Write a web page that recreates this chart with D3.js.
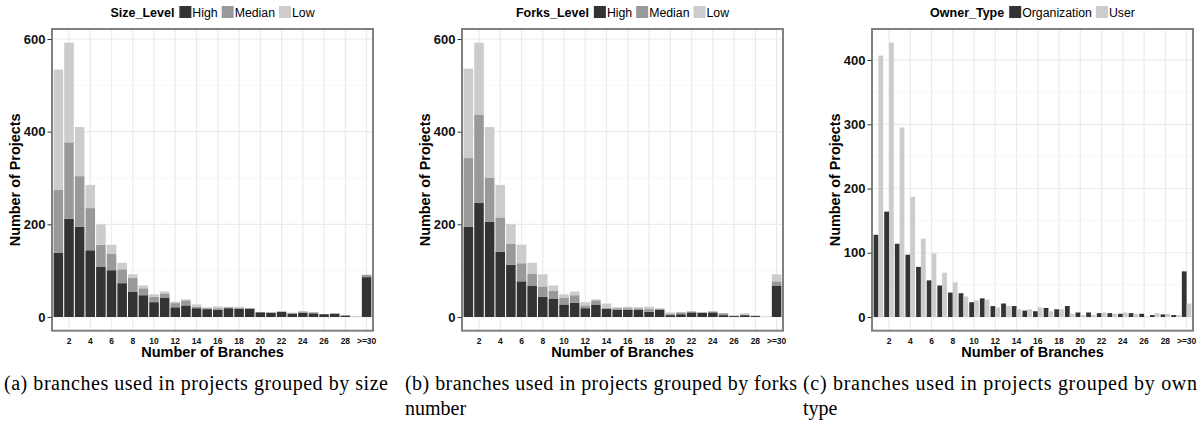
<!DOCTYPE html>
<html>
<head>
<meta charset="utf-8">
<script src="https://cdn.jsdelivr.net/npm/d3@7"></script>
<style>
  body { margin: 0; background: #fff; }
  svg text { font-family: "Liberation Sans", Arial, sans-serif; }
  .caption { font-family: "Liberation Serif", "Times New Roman", serif; font-size: 20px; fill: #000; }
</style>
</head>
<body>
<script>
// Categories (number of branches)
var branches = ["1","2","3","4","5","6","7","8","9","10","11","12","13","14","15",
                "16","17","18","19","20","21","22","23","24","25","26","27","28","29",">=30"];
var tickLabels = ["2","4","6","8","10","12","14","16","18","20","22","24","26","28",">=30"];

// (a) grouped by size level
var sizeHigh   = [139,212,195,144,109,101,73,54,47,32,41,21,25,19,17,16,19,18,18,10,9,11,7,9,8,6,7,3,0,86];
var sizeMedian = [135,165,109,91,47,36,30,30,15,12,10,9,11,3,2,3,2,2,1,0,1,1,2,3,2,0,1,1,0,5];
var sizeLow    = [260,215,106,50,44,19,14,8,6,5,4,3,2,5,2,4,1,2,0,0,0,0,0,0,0,0,0,0,2,0];

// (b) grouped by forks level
var forksHigh   = [195,246,206,141,113,77,68,44,40,27,31,19,27,18,16,16,16,11,16,4,6,10,9,10,4,2,4,2,0,68];
var forksMedian = [148,191,94,74,45,39,26,22,16,15,16,6,9,2,3,3,3,6,2,3,4,2,1,2,4,1,0,1,0,9];
var forksLow    = [193,155,110,70,42,40,23,26,12,7,8,7,2,9,2,3,2,5,0,3,0,0,0,0,0,0,4,0,1,15];

// (c) grouped by owner type
var ownerOrg  = [128,164,114,97,78,57,49,38,37,23,29,17,21,17,10,9,14,12,17,7,7,6,6,5,6,5,3,4,3,71];
var ownerUser = [407,427,295,187,122,99,69,54,32,26,27,15,17,12,12,15,9,12,5,3,3,7,5,7,5,1,6,5,3,21];

var width = 1198, height = 425;
var plotTop = 29, plotBottom = 330.7, plotWidth = 321;

var svg = d3.select("body").append("svg")
            .attr("width", width)
            .attr("height", height);

function drawPanel(left, opts) {
  var g = svg.append("g");
  var right = left + plotWidth;

  var x = d3.scalePoint()
            .domain(branches)
            .range([left, right])
            .padding(0.6);
  var step = x.step();

  var yMax = d3.max(opts.totals);
  var y = d3.scaleLinear()
            .domain([-0.05 * yMax, 1.05 * yMax])
            .range([plotBottom, plotTop]);

  // minor + major grid
  g.selectAll(".minor").data(opts.minor).enter().append("line")
    .attr("x1", left).attr("x2", right)
    .attr("y1", function(d) { return y(d); })
    .attr("y2", function(d) { return y(d); })
    .style("stroke", "#f4f4f4").style("stroke-width", 0.8);

  g.selectAll(".hgrid").data(opts.ticks).enter().append("line")
    .attr("x1", left).attr("x2", right)
    .attr("y1", function(d) { return y(d); })
    .attr("y2", function(d) { return y(d); })
    .style("stroke", "#ebebeb").style("stroke-width", 1.2);

  g.selectAll(".vgrid").data(tickLabels).enter().append("line")
    .attr("x1", function(d) { return x(d); })
    .attr("x2", function(d) { return x(d); })
    .attr("y1", plotTop).attr("y2", plotBottom)
    .style("stroke", "#ebebeb").style("stroke-width", 1.2);

  // bars
  opts.bars(g, x, y, step);

  // frame
  g.append("rect")
    .attr("x", left).attr("y", plotTop)
    .attr("width", plotWidth).attr("height", plotBottom - plotTop)
    .style("fill", "none").style("stroke", "#808080").style("stroke-width", 2);

  // y axis
  var yAxis = d3.axisLeft(y).tickValues(opts.ticks).tickSize(4).tickPadding(2).tickSizeOuter(0);
  var ya = g.append("g")
    .attr("transform", "translate(" + (left - 0.5) + ",0)")
    .call(yAxis);
  ya.select(".domain").remove();
  ya.selectAll("line").style("stroke", "#333");
  ya.selectAll("text")
    .style("font-size", "13px").style("font-weight", "bold").style("fill", "#111")
    .attr("font-family", null);

  // x labels
  g.selectAll(".xlab").data(tickLabels).enter().append("text")
    .attr("x", function(d) { return x(d); })
    .attr("y", 344)
    .attr("text-anchor", "middle")
    .style("font-size", "8.5px").style("font-weight", "bold").style("fill", "#111")
    .text(function(d) { return d; });

  // axis titles
  g.append("text")
    .attr("x", left + plotWidth / 2).attr("y", 357)
    .attr("text-anchor", "middle")
    .style("font-size", "14.5px").style("font-weight", "bold").style("fill", "#000")
    .text("Number of Branches");

  g.append("text")
    .attr("transform", "translate(" + (left - 32) + "," + ((plotTop + plotBottom) / 2) + ") rotate(-90)")
    .attr("text-anchor", "middle")
    .style("font-size", "14.4px").style("font-weight", "bold").style("fill", "#000")
    .text("Number of Projects");

  // legend, centred above the panel
  var lg = g.append("g");
  var cx = 0;
  var t = lg.append("text")
    .attr("x", cx).attr("y", 17)
    .style("font-size", "12.5px").style("font-weight", "bold").style("fill", "#000")
    .text(opts.legendTitle);
  cx += t.node().getComputedTextLength() + 5;
  opts.legendKeys.forEach(function(k, i) {
    lg.append("rect")
      .attr("x", cx).attr("y", 6).attr("width", 12).attr("height", 12)
      .style("fill", opts.colors[i]);
    cx += 13;
    var lt = lg.append("text")
      .attr("x", cx).attr("y", 17)
      .style("font-size", "12.3px").style("fill", "#000")
      .text(k);
    cx += lt.node().getComputedTextLength() + 4;
  });
  cx -= 4;
  lg.attr("transform", "translate(" + (left + plotWidth / 2 - cx / 2) + ",0)");
}

var greys3 = ["#333333", "#999999", "#cccccc"];
var levelKeys = ["High", "Median", "Low"];

function stackedBars(high, median, low) {
  var rows = branches.map(function(b, i) {
    return { branch: b, High: high[i], Median: median[i], Low: low[i] };
  });
  var series = d3.stack().keys(levelKeys)(rows);
  return function(g, x, y, step) {
    var bw = step * 0.9;
    g.selectAll(".layer").data(series).enter().append("g")
      .style("fill", function(d, i) { return greys3[i]; })
      .selectAll("rect")
      .data(function(d) { return d; })
      .enter().append("rect")
      .attr("x", function(d) { return x(d.data.branch) - bw / 2; })
      .attr("width", bw)
      .attr("y", function(d) { return y(d[1]); })
      .attr("height", function(d) { return y(d[0]) - y(d[1]); });
  };
}

function totalsOf(a, b, c) {
  return branches.map(function(_, i) { return a[i] + b[i] + (c ? c[i] : 0); });
}

var lefts = [52, 462, 872];

drawPanel(lefts[0], {
  totals: totalsOf(sizeHigh, sizeMedian, sizeLow),
  ticks: [0, 200, 400, 600],
  minor: [100, 300, 500],
  legendTitle: "Size_Level",
  legendKeys: levelKeys,
  colors: greys3,
  bars: stackedBars(sizeHigh, sizeMedian, sizeLow)
});

drawPanel(lefts[1], {
  totals: totalsOf(forksHigh, forksMedian, forksLow),
  ticks: [0, 200, 400, 600],
  minor: [100, 300, 500],
  legendTitle: "Forks_Level",
  legendKeys: levelKeys,
  colors: greys3,
  bars: stackedBars(forksHigh, forksMedian, forksLow)
});

drawPanel(lefts[2], {
  totals: ownerOrg.concat(ownerUser),
  ticks: [0, 100, 200, 300, 400],
  minor: [50, 150, 250, 350],
  legendTitle: "Owner_Type",
  legendKeys: ["Organization", "User"],
  colors: ["#333333", "#cccccc"],
  bars: function(g, x, y, step) {
    var bw = step * 0.45;
    var groups = [{ vals: ownerOrg, col: "#333333", off: -bw }, { vals: ownerUser, col: "#cccccc", off: 0 }];
    groups.forEach(function(s) {
      g.append("g").style("fill", s.col)
        .selectAll("rect").data(s.vals).enter().append("rect")
        .attr("x", function(d, i) { return x(branches[i]) + s.off; })
        .attr("width", bw)
        .attr("y", function(d) { return y(d); })
        .attr("height", function(d) { return y(0) - y(d); });
    });
  }
});

// Captions
svg.append("text").attr("class", "caption")
   .attr("x", 4).attr("y", 390)
   .attr("textLength", 384).attr("lengthAdjust", "spacing")
   .text("(a) branches used in projects grouped by size");
svg.append("text").attr("class", "caption")
   .attr("x", 405).attr("y", 390)
   .attr("textLength", 392).attr("lengthAdjust", "spacing")
   .text("(b) branches used in projects grouped by forks");
svg.append("text").attr("class", "caption")
   .attr("x", 405).attr("y", 415)
   .text("number");
svg.append("text").attr("class", "caption")
   .attr("x", 803).attr("y", 390)
   .attr("textLength", 394).attr("lengthAdjust", "spacing")
   .text("(c) branches used in projects grouped by own");
svg.append("text").attr("class", "caption")
   .attr("x", 803).attr("y", 415)
   .text("type");
</script>
</body>
</html>
